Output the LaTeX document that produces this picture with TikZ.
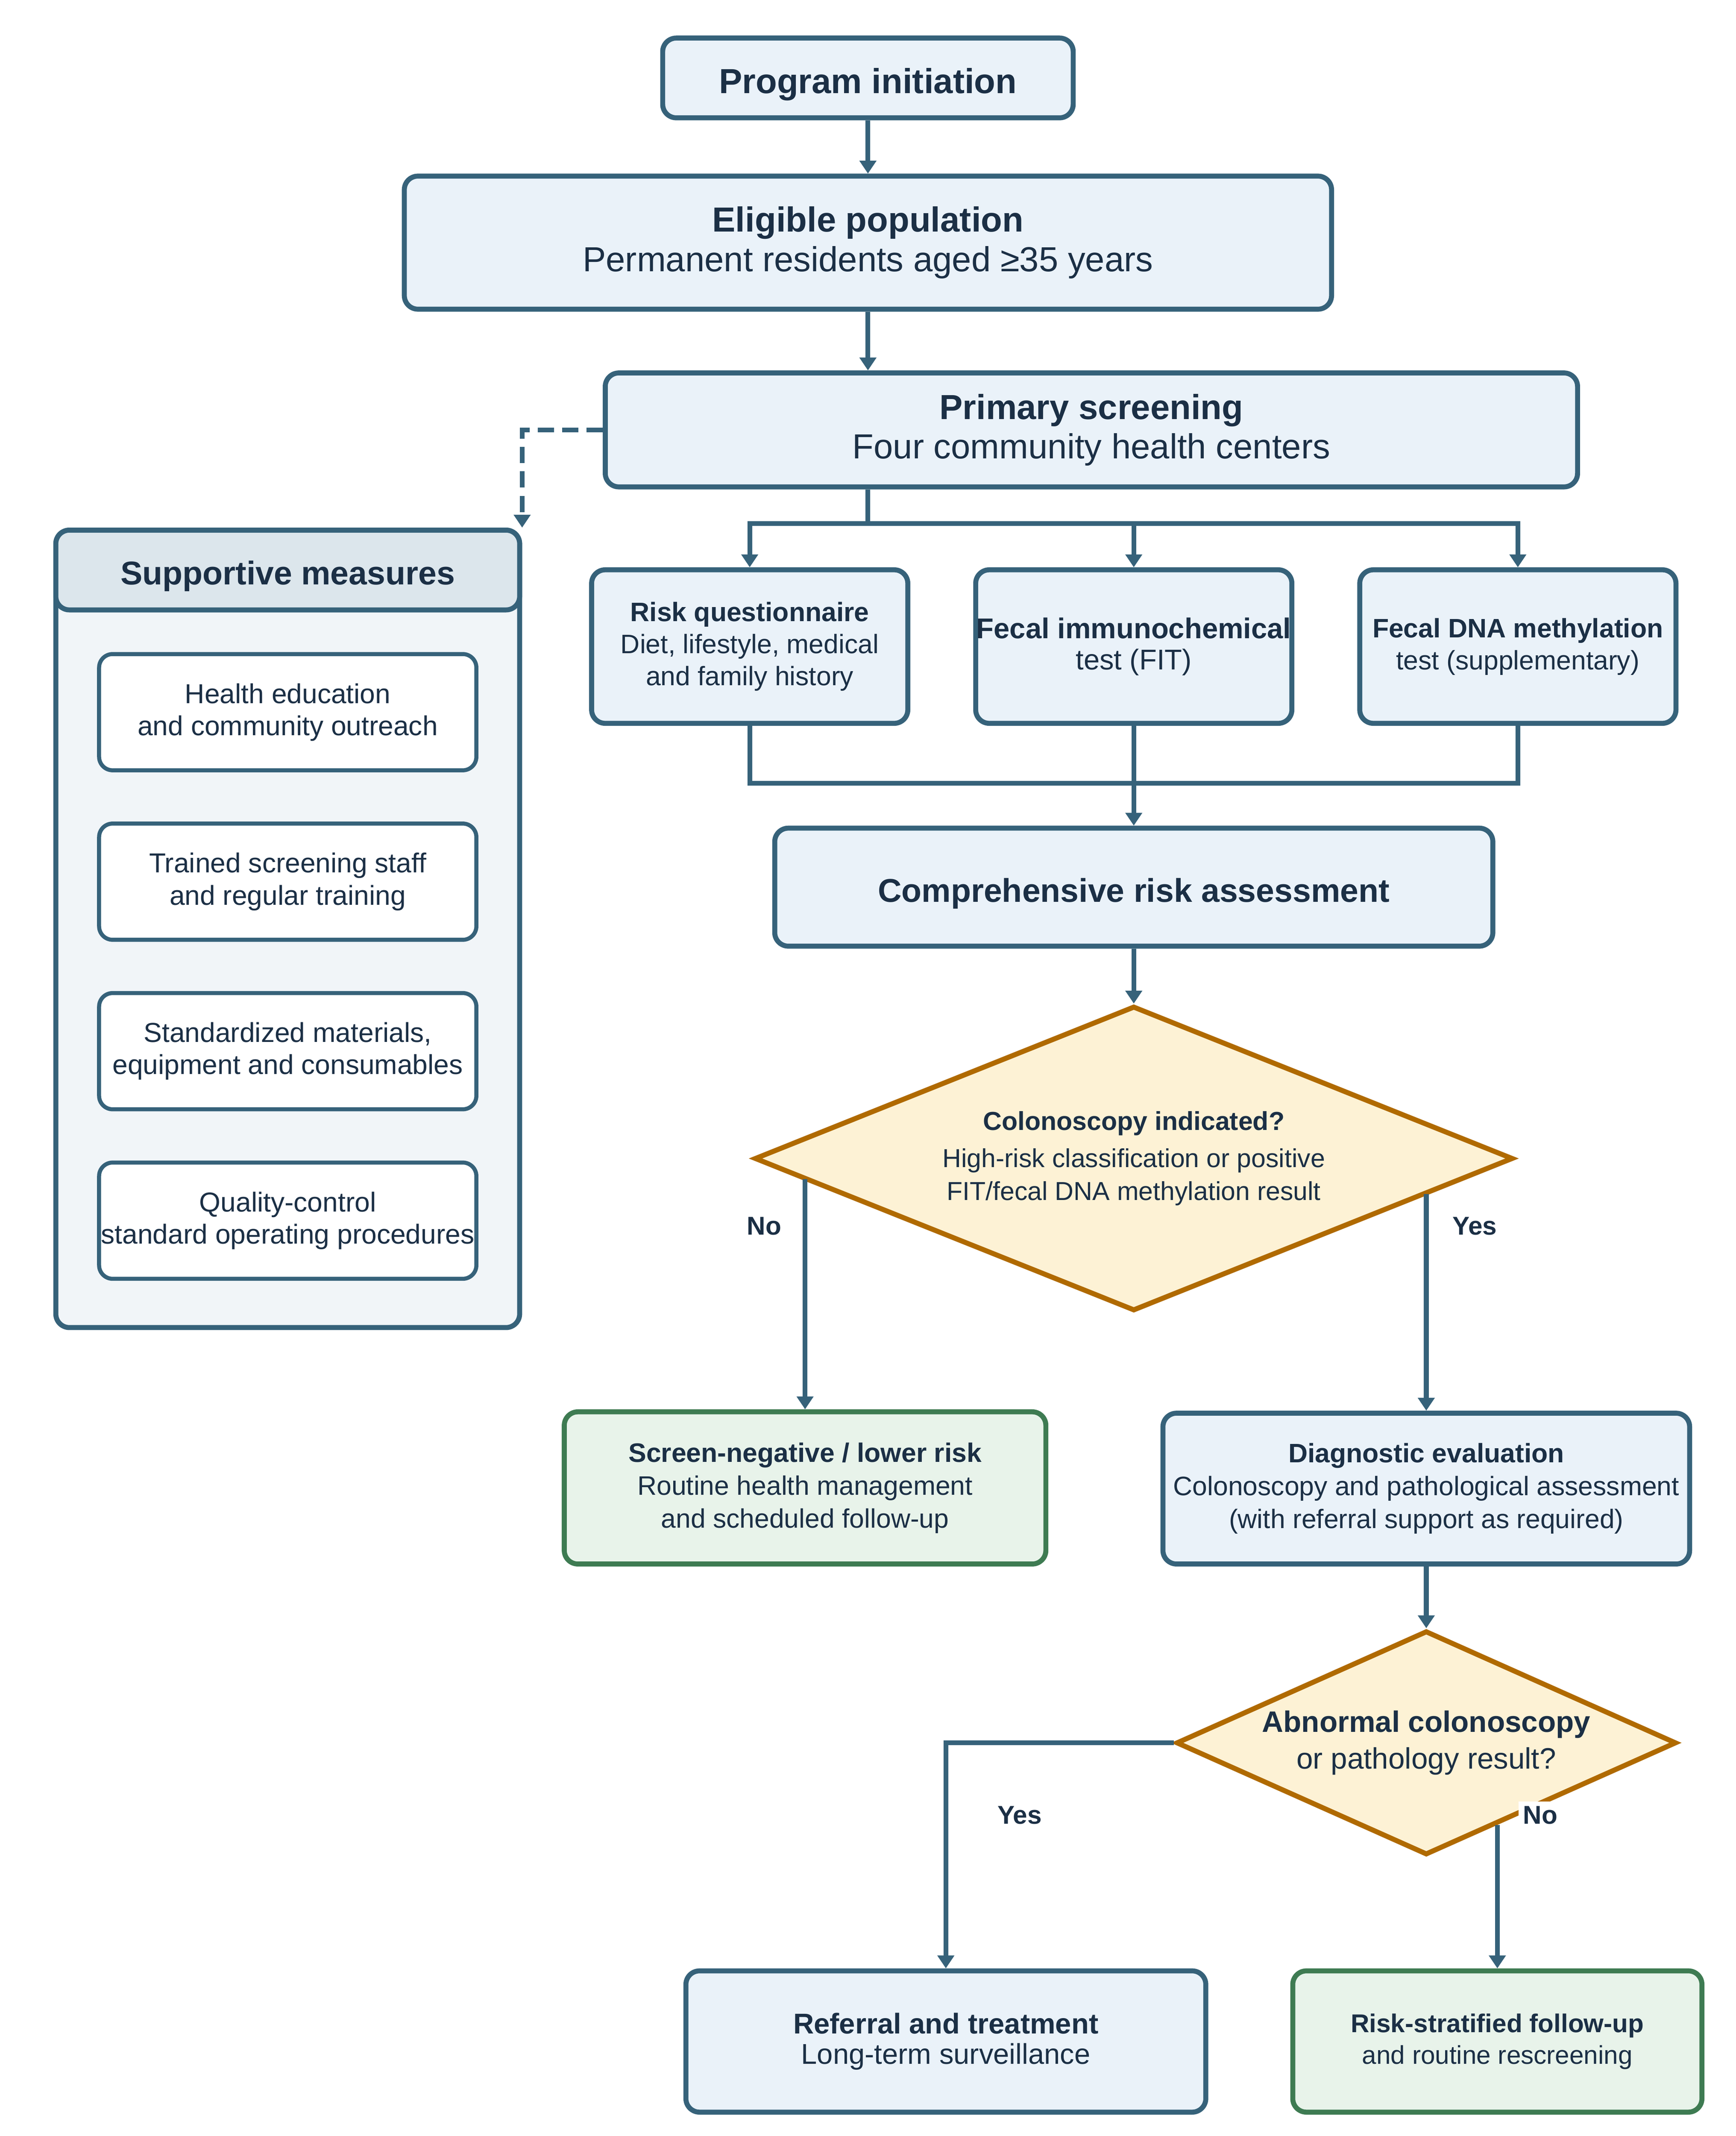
\documentclass[tikz,border=0pt]{standalone}
\usepackage{fontspec}
\setmainfont{Liberation Sans}
\usetikzlibrary{shapes.geometric, arrows.meta, calc}

\definecolor{edgeblue}{RGB}{54,98,122}
\definecolor{inkblue}{RGB}{27,47,69}
\definecolor{boxblue}{RGB}{234,242,249}
\definecolor{edgegreen}{RGB}{62,123,82}
\definecolor{boxgreen}{RGB}{232,243,234}
\definecolor{edgegold}{RGB}{176,106,0}
\definecolor{boxgold}{RGB}{253,242,213}
\definecolor{panelgray}{RGB}{241,245,248}
\definecolor{headgray}{RGB}{220,230,236}

\begin{document}
\begin{tikzpicture}[x=0.020158cm, y=-0.020158cm, text=inkblue]
    % Styles
    \tikzstyle{stage} = [rectangle, rounded corners=0.2cm, draw=edgeblue, line width=2.1pt, fill=boxblue, align=center, inner sep=0pt, execute at begin node={\rule{0pt}{1.1em}}]
    \tikzstyle{good} = [stage, draw=edgegreen, fill=boxgreen]
    \tikzstyle{measure} = [stage, fill=white, line width=1.7pt, minimum width=5.564cm, minimum height=1.714cm, font=\fontsize{11.5pt}{13.5pt}\selectfont]
    \tikzstyle{test} = [stage, minimum width=4.663cm, minimum height=2.264cm, font=\fontsize{11.2pt}{13.5pt}\selectfont]
    \tikzstyle{decision} = [diamond, draw=edgegold, fill=boxgold, line width=2.1pt, align=center, inner sep=0pt]
    \tikzstyle{arrow} = [->, >={Triangle[length=0.19cm, width=0.24cm]}, draw=edgeblue, line width=2pt]
    \tikzstyle{link} = [draw=edgeblue, line width=2pt]
    \tikzstyle{lbl} = [font=\fontsize{10.8pt}{12pt}\selectfont\bfseries, inner sep=2pt]

    \useasboundingbox (1.984,1.984) rectangle (1271.95,1564.64);

    % Main column
    \node[stage, minimum width=6.054cm, minimum height=1.176cm, font=\fontsize{14.6pt}{16.6pt}\selectfont\bfseries] (init) at (637,59) {Program initiation};
    \node[stage, minimum width=13.674cm, minimum height=1.962cm, font=\fontsize{14.6pt}{16.6pt}\selectfont] (elig) at (637,179.5) {\textbf{Eligible population}\\Permanent residents aged ≥35 years};
    \node[stage, minimum width=14.339cm, minimum height=1.68cm, font=\fontsize{14.6pt}{16.6pt}\selectfont] (prim) at (800.5,316.5) {\textbf{Primary screening}\\Four community health centers};

    % Supportive measures panel
    \node[stage, fill=panelgray, minimum width=6.84cm, minimum height=11.759cm] (sup) at (212.5,681.5) {};
    \node[stage, fill=headgray, minimum width=6.84cm, minimum height=1.176cm, font=\fontsize{13.8pt}{16.1pt}\selectfont\bfseries] (suphead) at (212.5,419) {Supportive measures};
    \node[measure] (m1) at (212.5,523) {Health education\\and community outreach};
    \node[measure] (m2) at (212.5,647) {Trained screening staff\\and regular training};
    \node[measure] (m3) at (212.5,771) {Standardized materials,\\equipment and consumables};
    \node[measure] (m4) at (212.5,895) {Quality-control\\standard operating procedures};

    % Screening tests
    \node[test] (risk) at (550.5,475) {\textbf{Risk questionnaire}\\Diet, lifestyle, medical\\and family history};
    \node[test, font=\fontsize{12pt}{13.2pt}\selectfont] (fit) at (831.5,475) {\textbf{Fecal immunochemical}\\test (FIT)};
    \node[test] (dna) at (1112.5,475) {\textbf{Fecal DNA methylation}\\test (supplementary)};

    \node[stage, minimum width=10.59cm, minimum height=1.74cm, font=\fontsize{13.8pt}{16.1pt}\selectfont\bfseries] (comp) at (831.5,651) {Comprehensive risk assessment};

    % Decisions and outcomes
    \node[decision, aspect=2.49, minimum width=11.188cm, minimum height=4.495cm, font=\fontsize{10.9pt}{13.8pt}\selectfont] (d1) at (831.5,849.5) {\textbf{Colonoscopy indicated?}\\[1.7pt]High-risk classification or positive\\FIT/fecal DNA methylation result};
    \node[good, minimum width=7.102cm, minimum height=2.244cm, font=\fontsize{11.2pt}{13.8pt}\selectfont] (neg) at (591,1090.5) {\textbf{Screen-negative / lower risk}\\Routine health management\\and scheduled follow-up};
    \node[stage, minimum width=7.767cm, minimum height=2.224cm, font=\fontsize{11.2pt}{13.8pt}\selectfont] (diag) at (1045.5,1091) {\textbf{Diagnostic evaluation}\\Colonoscopy and pathological assessment\\(with referral support as required)};
    \node[decision, aspect=2.23, minimum width=7.378cm, minimum height=3.306cm, font=\fontsize{12.4pt}{15.5pt}\selectfont] (d2) at (1045.5,1277) {\textbf{Abnormal colonoscopy}\\or pathology result?};
    \node[stage, minimum width=7.667cm, minimum height=2.083cm, font=\fontsize{12pt}{12.6pt}\selectfont] (refer) at (694,1495.5) {\textbf{Referral and treatment}\\Long-term surveillance};
    \node[good, minimum width=6.034cm, minimum height=2.083cm, font=\fontsize{10.8pt}{13.2pt}\selectfont] (strat) at (1097.5,1495.5) {\textbf{Risk-stratified follow-up}\\and routine rescreening};

    % Connectors
    \draw[arrow] (init) -- (elig);
    \draw[arrow] (elig.south) -- (elig.south |- prim.north);
    \draw[arrow, dash pattern=on 0.24cm off 0.12cm] (prim.west) -| (sup.north east);
    \coordinate (split) at (637,385);
    \draw[link] (elig.south |- prim.south) -- (split);
    \draw[arrow] (split) -| (risk.north);
    \draw[arrow] (split) -| (dna.north);
    \draw[arrow] (fit.north |- split) -- (fit.north);
    \coordinate (merge) at (831.5,575);
    \draw[link] (risk.south) |- (merge) -| (dna.south);
    \draw[arrow] (fit.south) -- (comp.north);
    \draw[arrow] (comp.south) -- (d1.north);

    \coordinate (d1no) at ($(d1.west)!0.133!(d1.south)$);
    \coordinate (d1yes) at ($(d1.east)!0.229!(d1.south)$);
    \draw[arrow] (neg.north |- d1no) -- (neg.north);
    \draw[arrow] (diag.north |- d1yes) -- (diag.north);
    \node[lbl] (no1) at (561,899) {No};
    \node[lbl] (yes1) at (1081,899) {Yes};

    \draw[arrow] (diag.south) -- (d2.north);
    \draw[arrow] (d2.west) -| (refer.north);
    \coordinate (d2no) at ($(d2.east)!0.716!(d2.south)$);
    \draw[arrow] (strat.north |- d2no) -- (strat.north);
    \node[lbl] (yes2) at (748,1330) {Yes};
    \node[lbl, fill=white] (no2) at (1129,1330) {No};
\end{tikzpicture}
\end{document}
